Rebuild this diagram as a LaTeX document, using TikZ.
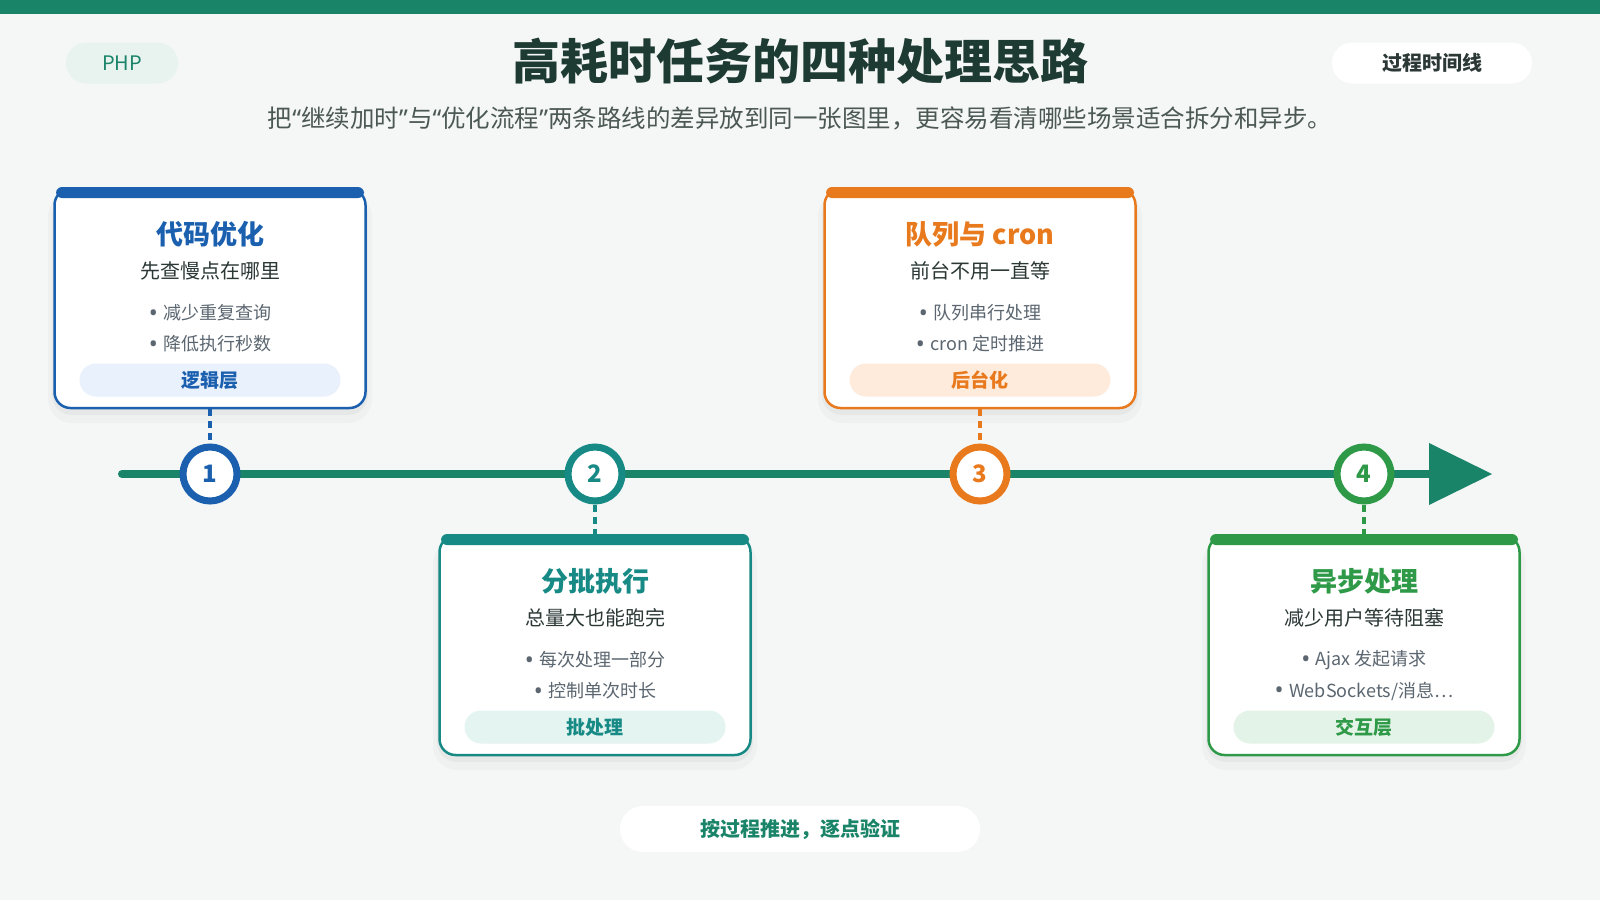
\documentclass[tikz,border=0pt]{standalone}
\usepackage{fontspec}
\setmainfont{Noto Sans CJK SC}
\newfontfamily\latinf{Noto Sans}
\usetikzlibrary{calc}
\definecolor{bg}{HTML}{F5F7F6}
\definecolor{topbar}{HTML}{1A8468}
\definecolor{titlec}{HTML}{1D3B32}
\definecolor{subc}{HTML}{4B5853}
\definecolor{darktxt}{HTML}{2B3835}
\definecolor{bullettxt}{HTML}{5B6670}
\definecolor{Amain}{HTML}{1B5FAF}
\definecolor{Asoft}{HTML}{E8F1FC}
\definecolor{Bmain}{HTML}{178A86}
\definecolor{Bsoft}{HTML}{E3F4F1}
\definecolor{Cmain}{HTML}{E8791C}
\definecolor{Csoft}{HTML}{FFEBDC}
\definecolor{Dmain}{HTML}{2E9A48}
\definecolor{Dsoft}{HTML}{E4F3E8}
\newcommand\myfs[1]{\fontsize{#1}{#1}\selectfont}
\newcommand\myoq{{\latinf “}}
\newcommand\mycq{{\latinf ”}}
\newcommand\bul{{\latinf\myfs{12}\raisebox{-0.07em}{•}}\hspace{0.3em}}
\tikzset{
  card/.style={rectangle, fill=white, line width=1.25pt, rounded corners=8pt,
    minimum width=155.5pt, minimum height=109.5pt, inner sep=0pt},
  ctitle/.style={inner sep=0pt, font=\myfs{13.5}\bfseries},
  csub/.style={inner sep=0pt, font=\myfs{10}, text=darktxt},
  cbul/.style={inner sep=0pt, font=\myfs{9}, text=bullettxt},
  cpill/.style={rectangle, rounded corners=8.25pt, minimum width=130.5pt,
    minimum height=16.5pt, inner sep=0pt, font=\myfs{9.5}\bfseries},
  dot/.style={circle, fill=white, line width=3.5pt, minimum size=27pt,
    inner sep=0pt, font=\myfs{12}\bfseries},
  dashline/.style={line width=2pt, dash pattern=on 3.5pt off 2.5pt},
  badge/.style={rectangle, rounded corners=10.25pt, minimum height=20.5pt, inner sep=0pt}
}
\newcommand\mycard[9]{%
  \fill[black, opacity=0.025, rounded corners=12pt] (#2-162,#3+4) rectangle (#2+162,#3+234);
  \fill[black, opacity=0.035, rounded corners=10pt] (#2-158,#3+6) rectangle (#2+158,#3+226);
  \node[card, draw=#4main] (#1) at (#2,#3+109.5) {};
  \fill[#4main, rounded corners=3pt] (#2-154,#3-2) rectangle (#2+154,#3+9);
  \node[ctitle, text=#4main] (#1t) at (#2,#3+45) {#5};
  \node[csub] (#1s) at (#2,#3+82) {#6};
  \node[cbul] (#1a) at (#2,#3+124) {\bul #7};
  \node[cbul] (#1b) at (#2,#3+155) {\bul #8};
  \node[cpill, fill=#4soft, text=#4main] (#1p) at (#2,#3+191) {#9};
}
\begin{document}
\begin{tikzpicture}[x=0.5pt,y=-0.5pt]
\fill[bg] (0,0) rectangle (1600,900);
\useasboundingbox (0,0) rectangle (1600,900);
\fill[topbar] (0,0) rectangle (1600,14);
% header
\node[badge, fill=topbar!10, text=topbar, minimum width=56pt, font=\myfs{10}] (php) at (122,63) {PHP};
\node[badge, fill=white, text=darktxt, minimum width=100pt, font=\myfs{10}\bfseries] (tl) at (1432,63) {过程时间线};
\node[inner sep=0pt, text=titlec, font=\myfs{24}\bfseries] (title) at (800,61) {高耗时任务的四种处理思路};
\node[inner sep=0pt, text=subc, font=\myfs{12.25}] (subtitle) at (800,118) {把\myoq 继续加时\mycq 与\myoq 优化流程\mycq 两条路线的差异放到同一张图里，更容易看清哪些场景适合拆分和异步。};
% timeline
\coordinate (ts) at (122,474);
\coordinate (te) at (1432,474);
\coordinate (ta) at (1429,443);
\coordinate (tb) at (1492,474);
\coordinate (tc) at (1429,505);
\draw[topbar, line width=4pt, line cap=round] (ts) -- (te);
\fill[topbar] (ta) -- (tb) -- (tc) -- cycle;
% cards
\mycard{c1}{210}{189}{A}{代码优化}{先查慢点在哪里}{减少重复查询}{降低执行秒数}{逻辑层}
\mycard{c3}{980}{189}{C}{队列与 cron}{前台不用一直等}{队列串行处理}{cron 定时推进}{后台化}
\mycard{c2}{595}{536}{B}{分批执行}{总量大也能跑完}{每次处理一部分}{控制单次时长}{批处理}
\mycard{c4}{1364}{536}{D}{异步处理}{减少用户等待阻塞}{Ajax 发起请求}{WebSockets/消息…}{交互层}
% markers
\node[dot, draw=Amain, text=Amain] (n1) at (210,474) {1};
\node[dot, draw=Bmain, text=Bmain] (n2) at (595,474) {2};
\node[dot, draw=Cmain, text=Cmain] (n3) at (980,474) {3};
\node[dot, draw=Dmain, text=Dmain] (n4) at (1364,474) {4};
\draw[dashline, Amain] (c1.south) -- (n1.north);
\draw[dashline, Cmain] (c3.south) -- (n3.north);
\draw[dashline, Bmain] (n2.south) -- (c2.north);
\draw[dashline, Dmain] (n4.south) -- (c4.north);
% footer
\node[rectangle, rounded corners=11.5pt, fill=white, minimum width=180pt, minimum height=23pt, inner sep=0pt, text=topbar, font=\myfs{10}\bfseries] (foot) at (800,829) {按过程推进，逐点验证};
\end{tikzpicture}
\end{document}
